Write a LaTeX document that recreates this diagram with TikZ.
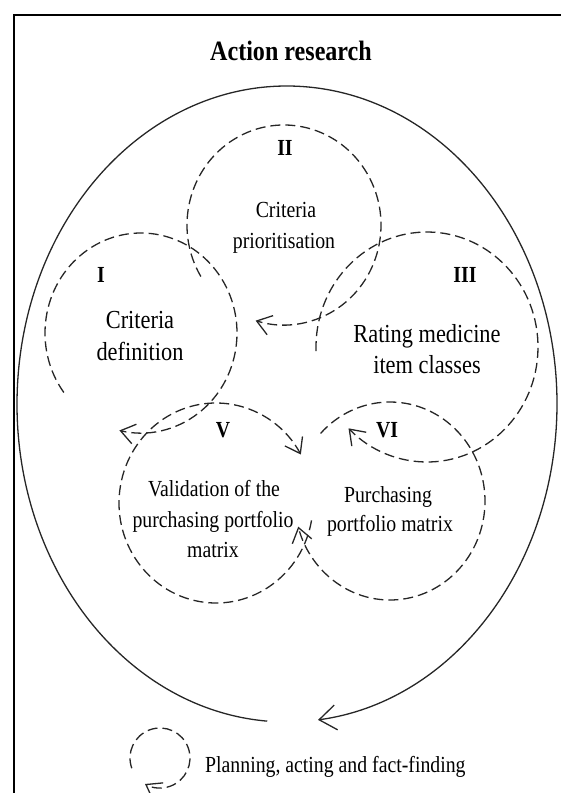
\documentclass[tikz,border=0pt]{standalone}
\usepackage{fontspec}
\setmainfont{Liberation Serif}[FakeStretch=0.86]
\usetikzlibrary{arrows.meta}

\begin{document}
\begin{tikzpicture}[x=1pt,y=-1pt,
  frameline/.style={draw=black, line width=1.3pt},
  outerloop/.style={draw=black!85, line width=1.3pt,
    -{Straight Barb[length=17pt,width=25pt,line width=1.3pt]}},
  phaseloop/.style={draw=black!85, line width=1.3pt, dash pattern=on 10pt off 5pt,
    -{Straight Barb[length=14pt,width=20pt,line width=1.3pt]}},
  titletext/.style={font=\fontsize{28}{32}\selectfont\bfseries, anchor=base, inner sep=0pt},
  numtext/.style={font=\fontsize{23}{27}\selectfont\bfseries, anchor=base, inner sep=0pt},
  bigtext/.style={font=\fontsize{26}{30}\selectfont, anchor=base, inner sep=0pt},
  bodytext/.style={font=\fontsize{23}{27}\selectfont, anchor=base, inner sep=0pt}]
\useasboundingbox (0,0) rectangle (561,793);

% open frame
\draw[frameline] (14,793) -- (14,15) -- (561,15);

\node[titletext] (title) at (291,60) {Action research};

% overall action research cycle
\coordinate (oc) at (287,404);
\draw[outerloop] (oc) ++(94.2:270 and 318)
  arc[start angle=94.2, end angle=443.4, x radius=270, y radius=318];

% phase cycles
\coordinate (c1) at (141,333);
\coordinate (c2) at (284,225);
\coordinate (c3) at (427,347);
\coordinate (c5) at (216,503);
\coordinate (c6) at (390,501);
\coordinate (cl) at (160,758);

\draw[phaseloop] (c1) ++(143.5:96 and 100)
  arc[start angle=143.5, end angle=463, x radius=96, y radius=100];
\draw[phaseloop] (c2) ++(149:97 and 100)
  arc[start angle=149, end angle=467, x radius=97, y radius=100];
\draw[phaseloop] (c3) ++(178:111 and 115)
  arc[start angle=178, end angle=495, x radius=111, y radius=115];
\draw[phaseloop] (c5) ++(10:97 and 100)
  arc[start angle=10, end angle=331, x radius=97, y radius=100];
\draw[phaseloop] (c6) ++(223:95 and 99)
  arc[start angle=223, end angle=525, x radius=95, y radius=99];
\draw[phaseloop] (cl) ++(160:30 and 30)
  arc[start angle=160, end angle=480, x radius=30, y radius=30];

% phase I
\node[numtext] (n1) at (101,282) {I};
\node[bigtext] (t1a) at (140,328) {Criteria};
\node[bigtext] (t1b) at (140,360) {definition};

% phase II
\node[numtext] (n2) at (285,155) {II};
\node[bodytext] (t2a) at (286,217) {Criteria};
\node[bodytext] (t2b) at (284,248) {prioritisation};

% phase III
\node[numtext] (n3) at (465,282) {III};
\node[bigtext] (t3a) at (427,342) {Rating medicine};
\node[bigtext] (t3b) at (427,373) {item classes};

% phase V
\node[numtext] (n5) at (223,437) {V};
\node[bodytext] (t5a) at (214,496) {Validation of the};
\node[bodytext] (t5b) at (213,527) {purchasing portfolio};
\node[bodytext] (t5c) at (213,557) {matrix};

% phase VI
\node[numtext] (n6) at (387,437) {VI};
\node[bodytext] (t6a) at (388,502) {Purchasing};
\node[bodytext] (t6b) at (390,531) {portfolio matrix};

% legend
\node[bodytext, anchor=base west] (leg) at (205,772) {Planning, acting and fact-finding};
\end{tikzpicture}
\end{document}
